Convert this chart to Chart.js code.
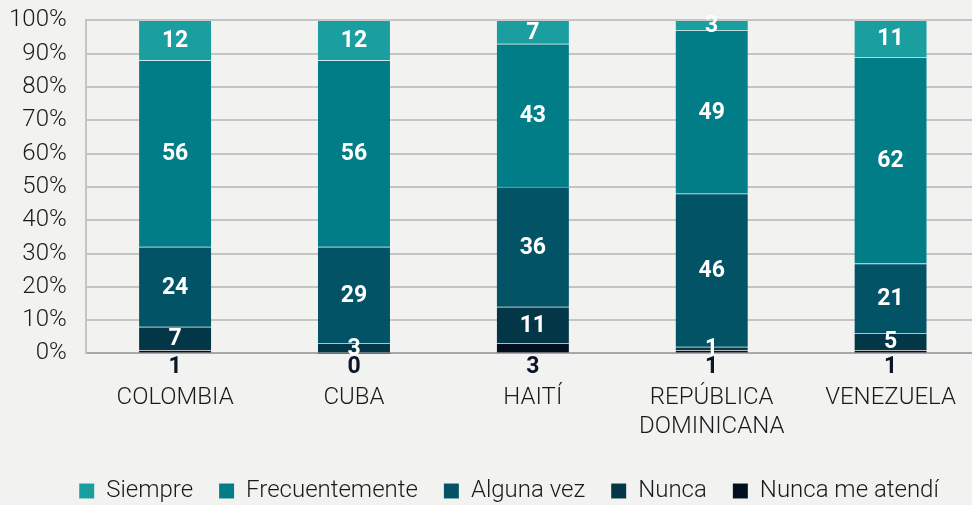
<!DOCTYPE html>
<html>
<head>
<meta charset="utf-8">
<script src="https://cdn.jsdelivr.net/npm/chart.js@4.4.0/dist/chart.umd.min.js"></script>
<style>
  html, body { margin: 0; padding: 0; background: #f2f2f0; overflow: hidden; }
  #wrap { width: 980px; height: 526px; margin-top: -13px; }
</style>
</head>
<body>
<div id="wrap"><canvas id="chart"></canvas></div>
<script>
// categories and series (percent of respondents)
const countries = ["COLOMBIA", "CUBA", "HAITÍ", ["REPÚBLICA", "DOMINICANA"], "VENEZUELA"];
const nuncaMeAtendi = [1, 0, 3, 1, 1];
const nunca = [7, 3, 11, 1, 5];
const algunaVez = [24, 29, 36, 46, 21];
const frecuentemente = [56, 56, 43, 49, 62];
const siempre = [12, 12, 7, 3, 11];
const yTicks = [0, 10, 20, 30, 40, 50, 60, 70, 80, 90, 100];

const bg = "#f2f2f0";
const sep = "rgba(255,255,255,0.22)";

// bottom to top in the stack; legend is reversed
const series = [
  { label: "Nunca me atendí", data: nuncaMeAtendi, color: "#020f1f" },
  { label: "Nunca", data: nunca, color: "#033646" },
  { label: "Alguna vez", data: algunaVez, color: "#025366" },
  { label: "Frecuentemente", data: frecuentemente, color: "#017d87" },
  { label: "Siempre", data: siempre, color: "#1a9ea0" }
];

// value labels: white inside the bar, "Nunca me atendí" under the axis
const valueLabels = {
  id: "valueLabels",
  afterDatasetsDraw(chart) {
    const ctx = chart.ctx;
    ctx.save();
    ctx.font = "bold 23px Roboto";
    ctx.textAlign = "center";
    ctx.textBaseline = "middle";
    chart.data.datasets.forEach((ds, i) => {
      const meta = chart.getDatasetMeta(i);
      meta.data.forEach((bar, j) => {
        const v = ds.data[j];
        if (i === 0) {
          ctx.fillStyle = "#0a1628";
          ctx.fillText(v, bar.x, chart.chartArea.bottom + 14);
        } else {
          ctx.fillStyle = "#ffffff";
          ctx.fillText(v, bar.x, (bar.y + bar.base) / 2 + 1);
        }
      });
    });
    ctx.restore();
  }
};

// background + nudge the legend a bit to the right
const canvasBg = {
  id: "canvasBg",
  beforeDraw(chart) {
    const ctx = chart.ctx;
    ctx.save();
    ctx.fillStyle = bg;
    ctx.fillRect(0, 0, chart.width, chart.height);
    ctx.restore();
    if (!chart.legend._shifted) {
      chart.legend.left += 19;
      chart.legend.right += 19;
      chart.legend._shifted = true;
    }
  },
  afterLayout(chart) {
    chart.legend._shifted = false;
  }
};

new Chart(document.getElementById("chart"), {
  type: "bar",
  data: {
    labels: countries,
    datasets: series.map(s => ({
      label: s.label,
      data: s.data,
      backgroundColor: s.color,
      borderColor: sep,
      borderWidth: { top: 1 },
      borderSkipped: false,
      barThickness: 72
    }))
  },
  options: {
    responsive: true,
    maintainAspectRatio: false,
    animation: false,
    layout: { padding: 0 },
    plugins: {
      legend: {
        position: "bottom",
        reverse: true,
        labels: {
          font: { family: "Roboto", size: 24, weight: "300" },
          color: "#1a1a1a",
          boxWidth: 15,
          boxHeight: 15,
          padding: 26
        }
      },
      tooltip: { enabled: false }
    },
    scales: {
      x: {
        stacked: true,
        grid: { display: false },
        border: { color: "#a8a8a8", width: 2 },
        afterFit(scale) { scale.height -= 10; },
        ticks: {
          font: { family: "Roboto", size: 24, weight: "300" },
          color: "#1a1a1a",
          padding: 22,
          maxRotation: 0
        }
      },
      y: {
        stacked: true,
        min: 0,
        max: 100,
        afterBuildTicks(axis) {
          axis.ticks = yTicks.map(v => ({ value: v }));
        },
        afterFit(scale) { scale.width -= 10; },
        grid: { color: "#c4c4c4", lineWidth: 2, drawTicks: false },
        border: { color: "#c4c4c4", width: 2 },
        ticks: {
          autoSkip: false,
          font: { family: "Roboto", size: 24, weight: "300" },
          color: "#1a1a1a",
          padding: 19,
          callback: v => v + "%"
        }
      }
    }
  },
  plugins: [canvasBg, valueLabels]
});
</script>
</body>
</html>
